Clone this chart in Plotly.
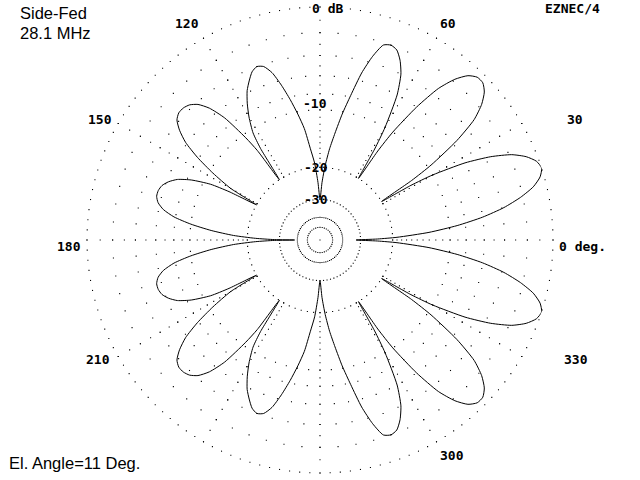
import numpy as np
import plotly.graph_objects as go

# ---- data: azimuth pattern (dB relative to maximum) ----
az_upper = [0, 1, 2, 4, 6, 8, 10, 12, 14, 16, 18, 20, 22, 24, 26, 28, 30, 31, 32,
            33, 34, 36, 38, 40, 42, 44, 46, 48, 50, 52, 54, 56, 57, 58,
            59, 60, 62, 64, 66, 68, 70, 72, 74, 76, 78, 80, 82, 84, 86, 88, 90,
            92, 94, 96, 98, 100, 102, 104, 106, 108, 110, 112, 114, 116, 118, 120, 122, 123, 124,
            125, 126, 128, 130, 132, 134, 136, 138, 140, 142, 144, 146, 148, 150, 151,
            152, 153, 155, 157, 159, 161, 163, 165, 167, 169, 171, 173, 175, 177, 178.5, 179.5]
db_upper = [-32, -24, -19, -13, -9, -6, -3.8, -2.2, -1, -0.3, 0, -0.2, -0.8, -1.8, -3.5, -6, -10, -13.5, -20,
            -13, -9.5, -5.5, -3, -1.7, -0.9, -0.5, -0.5, -0.9, -1.8, -3.3, -6, -10, -13.5, -20,
            -13.5, -10, -6, -4, -2.9, -2.2, -2, -2.2, -3.4, -5.2, -7.8, -10.3, -13.2, -16, -19.5, -24, -30,
            -24, -19, -16, -12.5, -10.3, -8.3, -6.5, -5, -4.2, -4, -4.3, -5, -5.8, -7, -8.5, -10.5, -13, -20,
            -13, -10.5, -7, -5.2, -4.2, -3.7, -3.5, -3.5, -3.8, -4.6, -5.8, -7.8, -10.5, -14, -20,
            -14, -11, -8.5, -7, -6.2, -5.7, -5.5, -5.5, -5.8, -6.5, -7.8, -10, -13, -17, -22, -28]
az_lower = [180, 180.5, 181.5, 183, 185, 187, 189, 191, 193, 195, 197, 199, 201, 203, 205, 207, 208, 209,
            210, 212, 214, 216, 218, 220, 222, 224, 226, 228, 230, 232, 234, 235, 236,
            237, 238, 240, 242, 244, 246, 248, 250, 252, 254, 256, 258, 260, 262, 264, 266, 268, 270,
            272, 274, 276, 278, 280, 282, 284, 286, 288, 290, 292, 294, 296, 298, 300, 301, 302,
            303, 304, 306, 308, 310, 312, 314, 316, 318, 320, 322, 324, 326, 327, 328,
            329, 330, 332, 334, 336, 338, 340, 342, 344, 346, 348, 350, 352, 354, 356, 358, 359, 360]
db_lower = [-38, -28, -22, -17, -13, -10, -7.8, -6.5, -5.8, -5.5, -5.5, -5.7, -6.2, -7, -8.5, -11, -14, -20,
            -14, -10.5, -7.8, -5.8, -4.6, -3.8, -3.5, -3.5, -3.7, -4.2, -5.2, -7, -10.5, -13, -20,
            -13, -10.5, -8.5, -7, -5.8, -5, -4.3, -4, -4.2, -5, -6.5, -8.3, -10.3, -12.5, -16, -19, -24, -30,
            -24, -19.5, -16, -13.2, -10.3, -7.8, -5.2, -3.4, -2.2, -2, -2.2, -2.9, -4, -6, -10, -13.5, -20,
            -13.5, -10, -6, -3.3, -1.8, -0.9, -0.5, -0.5, -0.9, -1.7, -3, -5.5, -9.5, -13, -20,
            -13.5, -10, -6, -3.5, -1.8, -0.8, -0.2, 0, -0.3, -1, -2.2, -3.8, -6, -9, -13, -19, -24, -32]

# grid: dotted rings (dots every few degrees) and dotted spokes (a dot per dB)
ring_db = [0, -2, -4, -6, -8, -10, -20, -30, -40, -50]
ring_dot_step = [2.5, 5, 5, 5, 5, 5, 5, 5, 5, 10]
spoke_deg = [0, 30, 60, 90, 120, 150, 180, 210, 240, 270, 300, 330]
spoke_db_min = -20
db_label_text = ["0 dB", "-10", "-20", "-30"]
db_label_xy = [(327, 8), (315, 103), (316, 167), (316, 199)]
angle_labels = ["0 deg.", "30", "60", "120", "150", "180", "210", "300", "330"]
angle_label_xy = [(582, 247), (575, 119), (448, 23), (187, 23), (100, 119),
                  (69, 247), (98, 359), (452, 455), (576, 359)]
title_lines = ["Side-Fed", "28.1 MHz"]
el_label = "El. Angle=11 Deg."
program = "EZNEC/4"


def arrl(db):
    """ARRL log scale: radius factor 0.89 per 2 dB."""
    return 0.89 ** (-np.asarray(db, dtype=float) / 2.0)


W, H = 640, 480
CX, CY, R = 320, 240, 233

fig = go.Figure()

gr, gt = [], []
for d, step in zip(ring_db, ring_dot_step):
    th = np.arange(0, 360, step)
    gt += list(th)
    gr += [float(arrl(d))] * len(th)
spoke_levels = np.arange(0, spoke_db_min - 1, -1)
for a in spoke_deg:
    gt += [a] * len(spoke_levels)
    gr += list(arrl(spoke_levels))
gt.append(0)
gr.append(0)
fig.add_trace(go.Scatterpolar(r=gr, theta=gt, mode="markers",
                              marker=dict(symbol="square", size=1.1, color="black",
                                          line=dict(width=0)),
                              hoverinfo="skip", showlegend=False))

theta = list(az_upper) + list(az_lower)
rr = list(arrl(db_upper)) + list(arrl(db_lower))
fig.add_trace(go.Scatterpolar(r=rr, theta=theta, mode="lines",
                              line=dict(color="black", width=1, shape="spline", smoothing=0.6),
                              showlegend=False))

fig.update_layout(
    width=W, height=H, margin=dict(l=0, r=0, t=0, b=0),
    paper_bgcolor="white", plot_bgcolor="white",
    polar=dict(
        domain=dict(x=[(CX - R) / W, (CX + R) / W], y=[(H - CY - R) / H, (H - CY + R) / H]),
        bgcolor="white",
        radialaxis=dict(range=[0, 1], visible=False),
        angularaxis=dict(visible=False, direction="counterclockwise", rotation=0),
    ),
)

mono = dict(family="DejaVu Sans Mono", size=13, color="black")
sans = dict(family="Liberation Sans", size=16.5, color="black")
anns = []
for t, (x, y) in zip(angle_labels + db_label_text, angle_label_xy + db_label_xy):
    anns.append(dict(x=x / W, y=1 - y / H, xref="paper", yref="paper", text="<b>%s</b>" % t,
                     xanchor="center", yanchor="middle", showarrow=False, font=mono))
for i, t in enumerate(title_lines):
    anns.append(dict(x=18 / W, y=1 - (13.5 + 19 * i) / H, xref="paper", yref="paper", text=t,
                     xanchor="left", yanchor="middle", showarrow=False, font=sans))
anns.append(dict(x=572 / W, y=1 - 8 / H, xref="paper", yref="paper", text="<b>%s</b>" % program,
                 xanchor="center", yanchor="middle", showarrow=False, font=mono))
anns.append(dict(x=7 / W, y=1 - 463 / H, xref="paper", yref="paper", text=el_label,
                 xanchor="left", yanchor="middle", showarrow=False, font=sans))
fig.update_layout(annotations=anns)
fig.add_shape(type="rect", xref="paper", yref="paper", x0=0, x1=185 / W, y0=0, y1=1 - 441 / H,
              fillcolor="white", line=dict(width=0), layer="above")

fig.write_html("out.html", config={"displayModeBar": False},
               post_script="document.body.style.margin='0';")
